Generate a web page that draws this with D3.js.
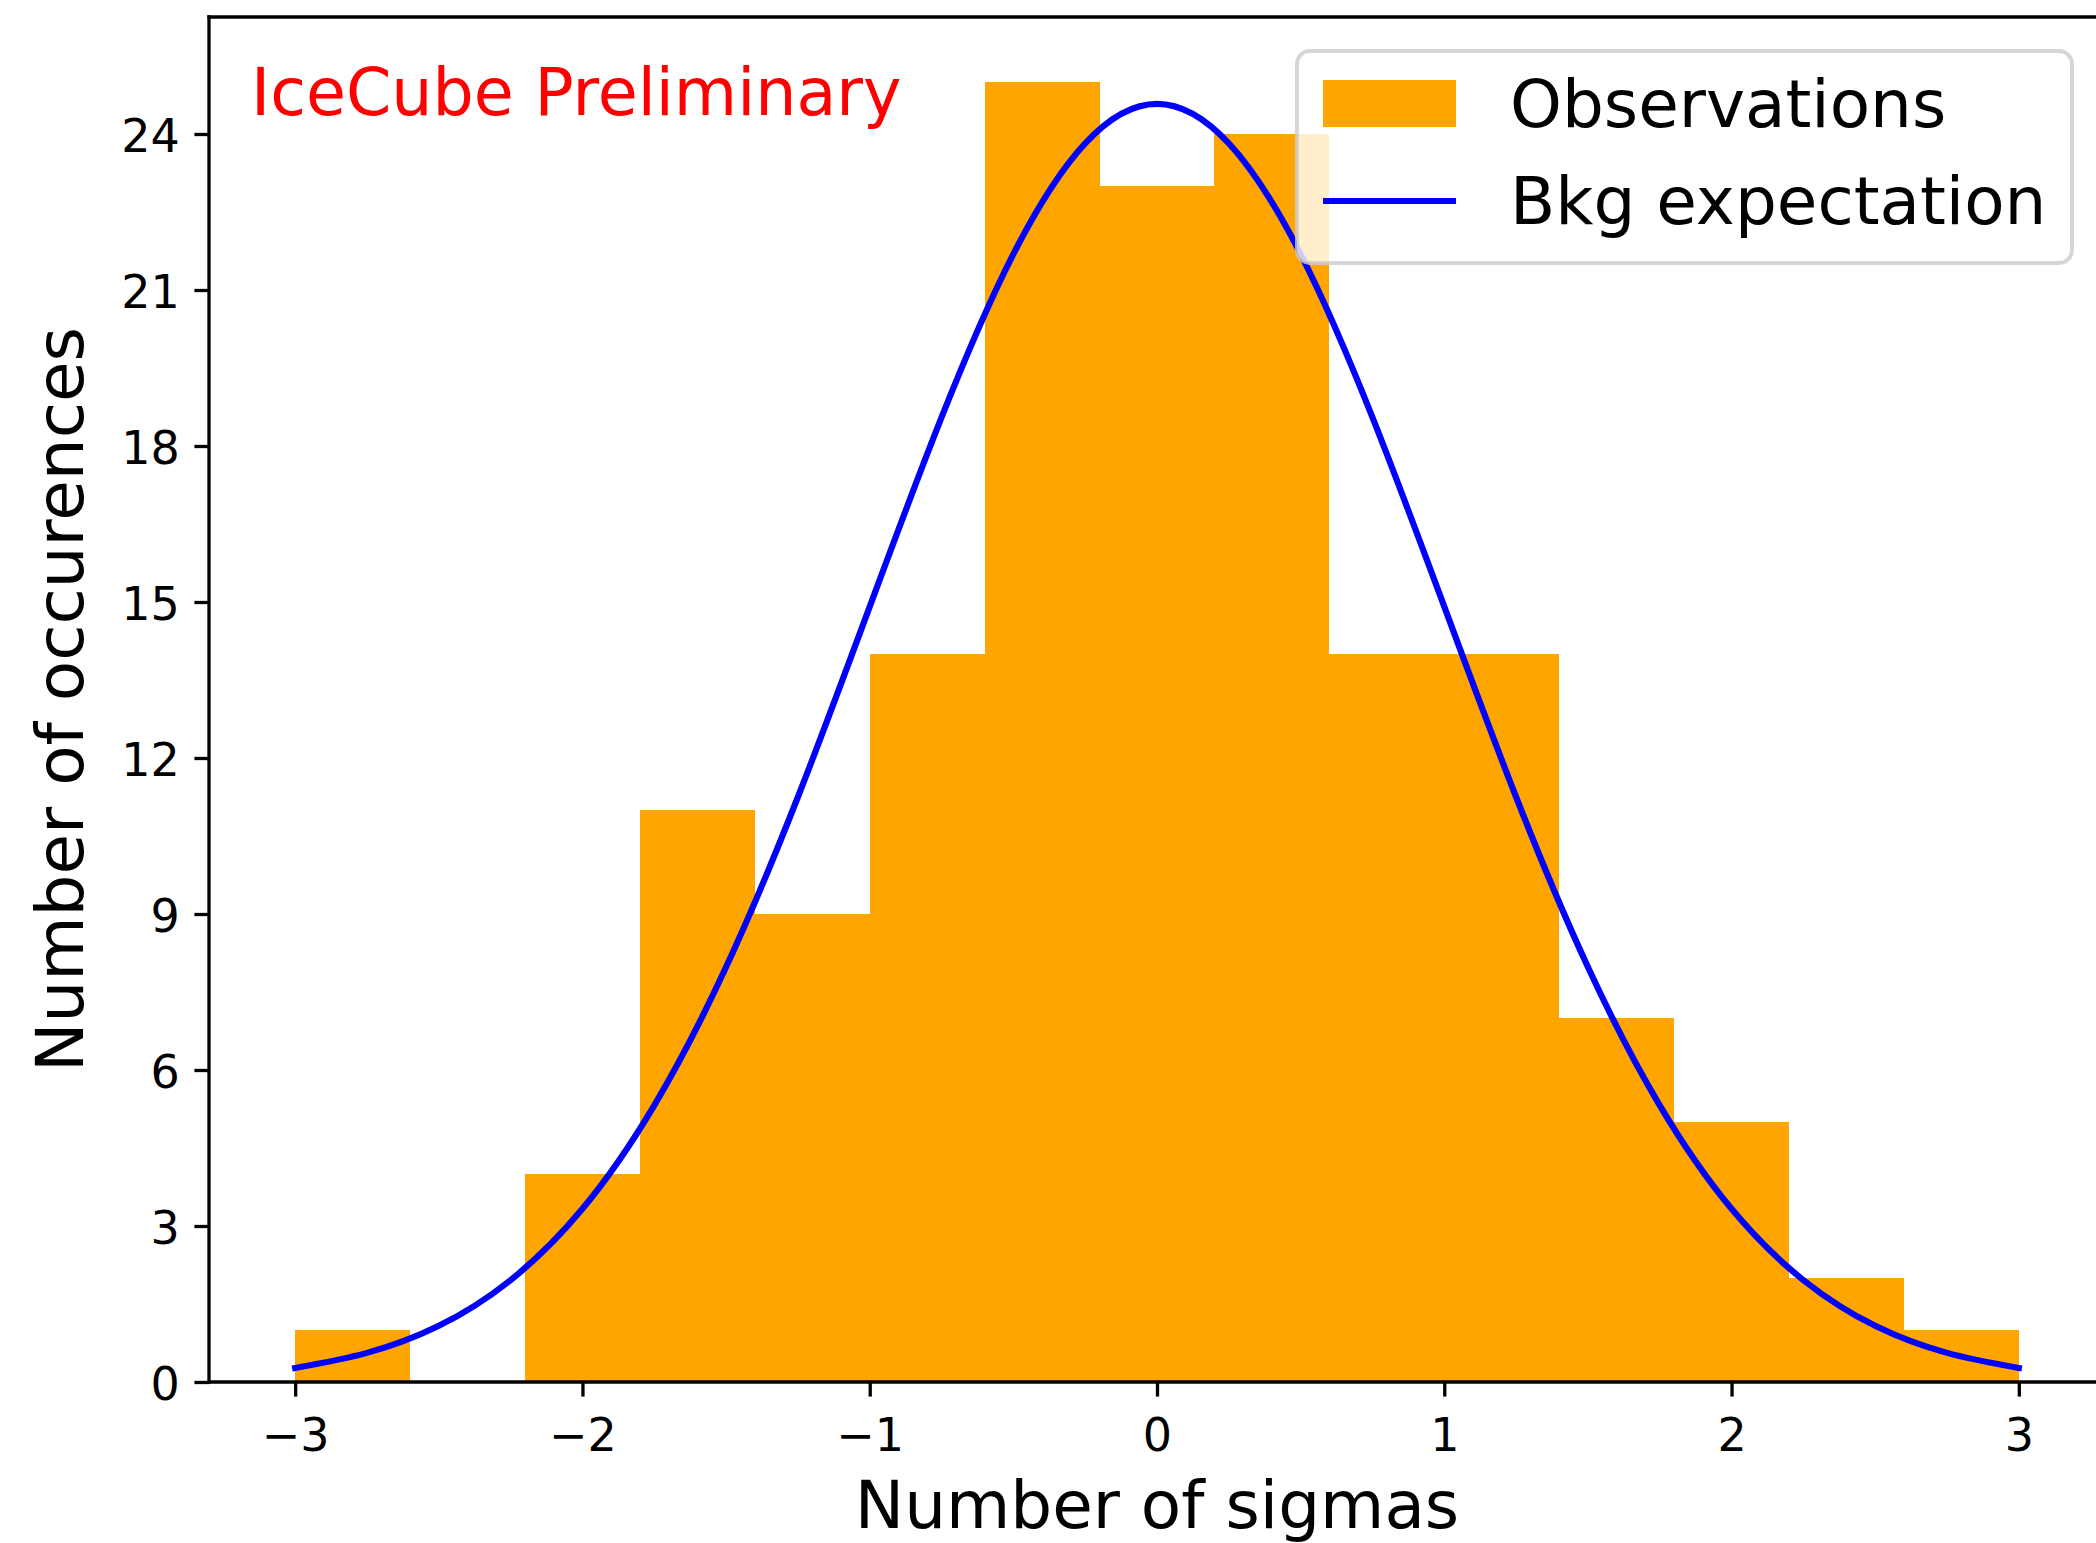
<!DOCTYPE html>
<html>
<head>
<meta charset="utf-8">
<script src="https://cdn.jsdelivr.net/npm/d3@7"></script>
<style>
  html, body { margin: 0; padding: 0; background: #ffffff; }
  svg { display: block; font-family: "DejaVu Sans", sans-serif; }
</style>
</head>
<body>
<svg id="chart" width="2096" height="1543"></svg>
<script>
// Histogram bin edges (number of sigmas) and observed counts per bin
const binEdges = [-3.0, -2.6, -2.2, -1.8, -1.4, -1.0, -0.6, -0.2, 0.2, 0.6, 1.0, 1.4, 1.8, 2.2, 2.6, 3.0];
const observedCounts = [1, 0, 4, 11, 9, 14, 25, 23, 24, 14, 14, 7, 5, 2, 1];

// Background expectation curve, sampled along the x axis
const bkgX = [-3, -2.75, -2.5, -2.25, -2, -1.75, -1.5, -1.25, -1, -0.75, -0.5, -0.25, 0,
              0.25, 0.5, 0.75, 1, 1.25, 1.5, 1.75, 2, 2.25, 2.5, 2.75, 3];
const bkgY = [0.27, 0.56, 1.08, 1.96, 3.33, 5.32, 7.98, 11.25, 14.91, 18.55, 21.69, 23.82, 24.58,
              23.82, 21.69, 18.55, 14.91, 11.25, 7.98, 5.32, 3.33, 1.96, 1.08, 0.56, 0.27];

// Axis ticks
const xTicks = [-3, -2, -1, 0, 1, 2, 3];
const yTicks = [0, 3, 6, 9, 12, 15, 18, 21, 24];

const xLabel = "Number of sigmas";
const yLabel = "Number of occurences";
const watermark = "IceCube Preliminary";
const legendLabels = ["Observations", "Bkg expectation"];

const svg = d3.select("#chart");
const plot = { left: 209, right: 2105, top: 17, bottom: 1382 };

const x = d3.scaleLinear().domain([-3.3, 3.3]).range([plot.left, plot.right]);
const y = d3.scaleLinear().domain([0, 26.25]).range([plot.bottom, plot.top]);

const bins = observedCounts.map((c, i) => ({ x0: binEdges[i], x1: binEdges[i + 1], count: c }));

// Bars
svg.append("g").attr("shape-rendering", "crispEdges").selectAll("rect")
  .data(bins.filter(d => d.count > 0))
  .join("rect")
  .attr("x", d => x(d.x0))
  .attr("y", d => y(d.count))
  .attr("width", d => x(d.x1) - x(d.x0))
  .attr("height", d => y(0) - y(d.count))
  .attr("fill", "#FFA500");

// Background expectation line
const line = d3.line()
  .x(d => x(d[0]))
  .y(d => y(d[1]))
  .curve(d3.curveNatural);
svg.append("path")
  .datum(bkgX.map((v, i) => [v, bkgY[i]]))
  .attr("d", line)
  .attr("fill", "none")
  .attr("stroke", "#0000ff")
  .attr("stroke-width", 6.2)
  .attr("stroke-linecap", "square");

// Axes
const fmt = v => (v < 0 ? "\u2212" + Math.abs(v) : String(v));
const xAxis = svg.append("g")
  .attr("transform", `translate(0,${plot.bottom})`)
  .call(d3.axisBottom(x).tickValues(xTicks).tickFormat(fmt).tickSize(14.6).tickPadding(14.6).tickSizeOuter(0));
const yAxis = svg.append("g")
  .attr("transform", `translate(${plot.left},0)`)
  .call(d3.axisLeft(y).tickValues(yTicks).tickFormat(fmt).tickSize(14.6).tickPadding(14.6).tickSizeOuter(0));

[xAxis, yAxis].forEach(g => {
  g.select(".domain").remove();
  g.selectAll(".tick line").attr("stroke", "#000").attr("stroke-width", 3.3);
  g.selectAll(".tick text").attr("fill", "#000")
    .attr("font-family", "DejaVu Sans").attr("font-size", 46);
});
xAxis.selectAll(".tick text").attr("dy", null).attr("y", 69).attr("dominant-baseline", "alphabetic");
yAxis.selectAll(".tick text").attr("dy", null).attr("dominant-baseline", "alphabetic")
  .attr("transform", "translate(0,17)");

// Spines (left, top, bottom; right edge lies beyond the canvas)
const spines = svg.append("g").attr("stroke", "#000").attr("stroke-width", 3.3)
  .attr("stroke-linecap", "square").attr("fill", "none");
spines.append("line").attr("x1", plot.left).attr("x2", plot.left).attr("y1", plot.top).attr("y2", plot.bottom);
spines.append("line").attr("x1", plot.left).attr("x2", plot.right).attr("y1", plot.top).attr("y2", plot.top);
spines.append("line").attr("x1", plot.left).attr("x2", plot.right).attr("y1", plot.bottom).attr("y2", plot.bottom);
spines.append("line").attr("x1", plot.right).attr("x2", plot.right).attr("y1", plot.top).attr("y2", plot.bottom);

// Axis labels
svg.append("text")
  .attr("x", (plot.left + plot.right) / 2).attr("y", 1528)
  .attr("text-anchor", "middle").attr("font-size", 66).attr("fill", "#000")
  .text(xLabel);
svg.append("text")
  .attr("transform", `translate(83,${(plot.top + plot.bottom) / 2}) rotate(-90)`)
  .attr("text-anchor", "middle").attr("font-size", 66).attr("fill", "#000")
  .text(yLabel);

// Watermark
svg.append("text")
  .attr("x", 251).attr("y", 115)
  .attr("font-size", 65).attr("fill", "#ff0000")
  .text(watermark);

// Legend
const lg = svg.append("g");
lg.append("rect")
  .attr("x", 1297).attr("y", 51).attr("width", 775).attr("height", 212)
  .attr("rx", 13).attr("ry", 13)
  .attr("fill", "#ffffff").attr("fill-opacity", 0.8)
  .attr("stroke", "#cccccc").attr("stroke-opacity", 0.8).attr("stroke-width", 4);
lg.append("rect")
  .attr("x", 1323).attr("y", 80).attr("width", 133).attr("height", 47)
  .attr("fill", "#FFA500");
lg.append("line")
  .attr("x1", 1323).attr("x2", 1456).attr("y1", 201).attr("y2", 201)
  .attr("stroke", "#0000ff").attr("stroke-width", 6.2);
lg.selectAll("text.lab")
  .data(legendLabels)
  .join("text")
  .attr("class", "lab")
  .attr("x", 1510).attr("y", (d, i) => i === 0 ? 127 : 224)
  .attr("font-size", 66).attr("fill", "#000")
  .text(d => d);
</script>
</body>
</html>
